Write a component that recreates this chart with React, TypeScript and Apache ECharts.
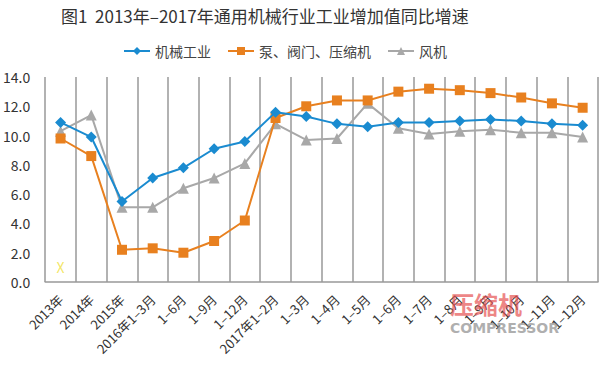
import React, { useEffect, useRef } from "react";
import * as echarts from "echarts";

const categories = [
  "2013年", "2014年", "2015年", "2016年1–3月", "1–6月", "1–9月", "1–12月",
  "2017年1–2月", "1–3月", "1–4月", "1–5月", "1–6月", "1–7月", "1–8月",
  "1–9月", "1–10月", "1–11月", "1–12月",
];
const machinery = [10.9, 9.9, 5.5, 7.1, 7.8, 9.1, 9.6, 11.6, 11.3, 10.8, 10.6, 10.9, 10.9, 11.0, 11.1, 11.0, 10.8, 10.7];
const pumpsValves = [9.8, 8.6, 2.2, 2.3, 2.0, 2.8, 4.2, 11.2, 12.0, 12.4, 12.4, 13.0, 13.2, 13.1, 12.9, 12.6, 12.2, 11.9];
const fans = [10.3, 11.4, 5.1, 5.1, 6.4, 7.1, 8.1, 10.8, 9.7, 9.8, 12.2, 10.5, 10.1, 10.3, 10.4, 10.2, 10.2, 9.9];
const markX = [[0, 1.0]];
const seriesNames = ["机械工业", "泵、阀门、压缩机", "风机"];
const titleText = "图1  2013年–2017年通用机械行业工业增加值同比增速";

export default function App() {
  const ref = useRef<HTMLDivElement>(null);
  useEffect(() => {
    const chart = echarts.init(ref.current!, null, { renderer: "svg" });
    const font = "'Noto Sans CJK SC', 'Noto Sans', sans-serif";
    chart.setOption({
      animation: false,
      backgroundColor: "#fff",
      textStyle: { fontFamily: font },
      title: {
        text: titleText,
        left: 56,
        top: 2,
        textStyle: { fontSize: 17, fontWeight: "normal", color: "#333", fontFamily: "'Noto Sans CJK SC', serif" },
      },
      legend: {
        data: seriesNames,
        top: 39,
        left: 118,
        itemWidth: 26,
        itemHeight: 10,
        itemGap: 16,
        textStyle: { fontSize: 14, color: "#444" },
      },
      grid: { left: 43, right: 2, top: 77, bottom: 86, containLabel: false },
      xAxis: {
        type: "category",
        data: categories,
        boundaryGap: true,
        axisLine: { lineStyle: { color: "#999", width: 1.5 } },
        axisTick: { show: false },
        splitLine: { show: true, lineStyle: { color: "#999", width: 1.5 } },
        axisLabel: { rotate: 45, fontSize: 13, color: "#333", interval: 0, margin: 15 },
      },
      yAxis: {
        type: "value",
        min: 0,
        max: 14,
        interval: 2,
        axisLine: { show: false },
        axisTick: { show: false },
        splitLine: { show: false },
        axisLabel: { fontSize: 14, color: "#333", formatter: (v: number) => v.toFixed(1), margin: 15 },
      },
      series: [
        {
          name: seriesNames[0],
          type: "line",
          data: machinery,
          symbol: "diamond",
          symbolSize: 11,
          itemStyle: { color: "#1a8bd0" },
          lineStyle: { width: 2, color: "#1a8bd0" },
          z: 4,
        },
        {
          name: seriesNames[1],
          type: "line",
          data: pumpsValves,
          symbol: "rect",
          symbolSize: 10,
          itemStyle: { color: "#e8801f" },
          lineStyle: { width: 2, color: "#e8801f" },
          z: 3,
        },
        {
          name: seriesNames[2],
          type: "line",
          data: fans,
          symbol: "triangle",
          symbolSize: 11,
          itemStyle: { color: "#a8a8a8" },
          lineStyle: { width: 2, color: "#a8a8a8" },
          z: 2,
        },
        {
          name: "mark",
          type: "scatter",
          data: markX,
          symbol: "circle",
          symbolSize: 1,
          itemStyle: { color: "rgba(0,0,0,0)" },
          label: { show: true, position: "inside", formatter: "X", color: "#f0e040", fontSize: 14 },
          z: 1,
        },
      ],
      graphic: [
        {
          type: "text",
          left: 450,
          top: 291,
          style: { text: "压缩机", fill: "rgba(230,80,80,0.7)", font: "bold 24px 'Noto Sans CJK SC'" },
          z: 100,
        },
        {
          type: "text",
          left: 450,
          top: 321,
          style: { text: "COMPRESSOR", fill: "rgba(140,140,140,0.7)", font: "bold 14px 'DejaVu Sans'" },
          z: 100,
        },
      ],
    });
    return () => chart.dispose();
  }, []);
  return <div ref={ref} style={{ width: 600, height: 368, position: "absolute", left: 0, top: 0 }} />;
}
